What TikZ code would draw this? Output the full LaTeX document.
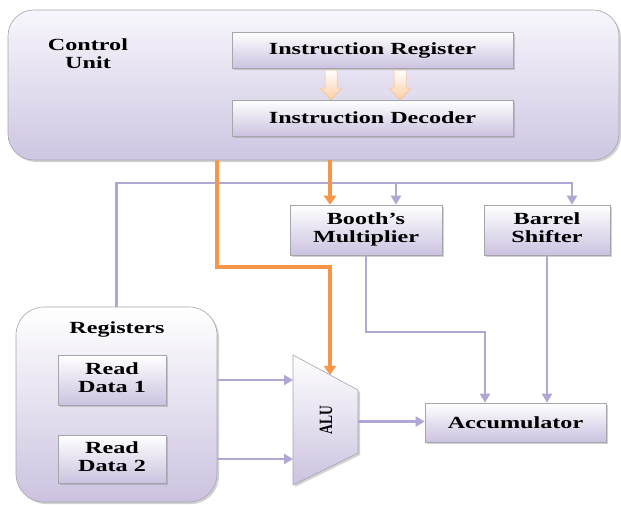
\documentclass[tikz,border=0pt]{standalone}
\usepackage{fontspec}
\setmainfont{Liberation Serif}
\usetikzlibrary{shadows,arrows.meta,calc}
\definecolor{lavline}{RGB}{178,166,212}
\definecolor{orline}{RGB}{247,150,70}
\definecolor{boxlav}{RGB}{204,194,224}
\definecolor{boxedge}{RGB}{165,165,172}
\definecolor{cutop}{RGB}{248,246,252}
\definecolor{cubot}{RGB}{206,198,226}
\definecolor{peach}{RGB}{250,205,165}
\newcommand\tx[1]{\scalebox{1.42}[1]{#1}}
\newcommand\txx[2]{\scalebox{1.42}[1]{\begin{tabular}{@{}c@{}}#1\\#2\end{tabular}}}
\begin{document}
\begin{tikzpicture}[x=1pt,y=-1pt,
  every node/.style={font=\fontsize{17}{18}\selectfont\bfseries, inner sep=0pt},
  blk/.style={draw=boxedge, line width=0.6pt, top color=white, bottom color=boxlav,
    drop shadow={shadow xshift=2pt,shadow yshift=-2pt,opacity=0.35}},
  lav/.style={draw=lavline, line width=2.6pt},
  orn/.style={draw=orline, line width=3.6pt},
  lavarr/.style={lav, -{Triangle[length=9pt,width=10pt]}},
  ornarr/.style={orn, -{Triangle[length=9pt,width=12pt]}},
  blockarr/.style={top color=white, bottom color=peach, draw=peach!80!orange, line width=0.5pt}
  ]
\useasboundingbox[fill=white] (0,0) rectangle (621,504);

% Control unit
\node[blk, rounded corners=26pt, minimum width=611pt, minimum height=150pt,
      top color=cutop, bottom color=cubot] (cu) at (313.5,85) {};
\node (ctl) at (88,56) {\txx{Control}{Unit}};
\node[blk, minimum width=281pt, minimum height=36pt] (ir) at (372.5,50) {\tx{Instruction Register}};
\node[blk, minimum width=281pt, minimum height=36pt] (dec) at (372.5,118) {\tx{Instruction Decoder}};
\foreach \X in {331,400}{
  \draw[blockarr] ({\X-6},70) -- ({\X+6},70) -- ({\X+6},88) -- ({\X+11},88) -- (\X,100)
     -- ({\X-11},88) -- ({\X-6},88) -- cycle;
}

% Functional units
\node[blk, minimum width=152pt, minimum height=50pt] (booth) at (366,230) {\txx{Booth's}{Multiplier}};
\node[blk, minimum width=126pt, minimum height=50pt] (barrel) at (547,230) {\txx{Barrel}{Shifter}};

% Registers
\node[blk, rounded corners=28pt, minimum width=201pt, minimum height=195pt] (regs) at (116.5,404.5) {};
\node (regl) at (117,329) {\tx{Registers}};
\node[blk, minimum width=108pt, minimum height=50pt] (rd1) at (112,380) {\txx{Read}{Data 1}};
\node[blk, minimum width=108pt, minimum height=48pt] (rd2) at (112,459) {\txx{Read}{Data 2}};

% ALU
\coordinate (alutl) at (293,355);
\coordinate (alutr) at (358,390);
\coordinate (alubr) at (358,453);
\coordinate (alubl) at (293,485);
\draw[blk] (alutl) -- (alutr) -- (alubr) -- (alubl) -- cycle;
\node[rotate=90, font=\fontsize{15}{15}\selectfont\bfseries] (alu) at (326,420) {\scalebox{0.9}[1.25]{ALU}};

% Accumulator
\node[blk, minimum width=181pt, minimum height=39pt] (acc) at (515.5,422.5) {\tx{Accumulator}};

% helper coordinates
\coordinate (busy) at (0,183);
\coordinate (barx) at (572,0);
\coordinate (boothx) at (396,0);
\coordinate (o1) at (217,0);
\coordinate (o2) at (330,0);
\coordinate (oy) at (0,267);
\coordinate (accx) at (485,0);
\coordinate (bendy) at (0,332);
\coordinate (aluin) at ($(alutl)!0.569!(alutr)$);
\coordinate (aluout) at ($(alutr)!0.5!(alubr)$);

% lavender connectors
\draw[lavarr] (regs.north) |- (busy -| barx) -- (barx |- barrel.north);
\draw[lavarr] (boothx |- busy) -- (boothx |- booth.north);
\draw[lavarr] (booth.south) |- (accx |- bendy) -- (accx |- acc.north);
\draw[lavarr] (barrel.south) -- (barrel.south |- acc.north);
\draw[lavarr] (rd1 -| regs.east) -- (rd1 -| alutl);
\draw[lavarr] (rd2 -| regs.east) -- (rd2 -| alutl);
\draw[lavarr] (aluout) -- (aluout -| acc.west);

% orange control connectors
\draw[ornarr] (o2 |- cu.south) -- (o2 |- booth.north);
\draw[ornarr] (o1 |- cu.south) |- (o2 |- oy) -- (aluin);
\end{tikzpicture}
\end{document}
